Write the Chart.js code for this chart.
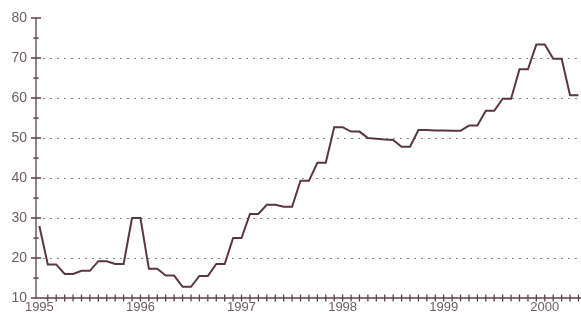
<!DOCTYPE html>
<html>
<head>
<meta charset="utf-8">
<script src="https://cdn.jsdelivr.net/npm/chart.js@4.4.0/dist/chart.umd.min.js"></script>
<style>
  html, body { margin: 0; padding: 0; background: #fff; }
  #wrap { width: 581px; height: 316px; }
</style>
</head>
<body>
<div id="wrap"><canvas id="priceChart" width="581" height="316"></canvas></div>
<script>
// Monthly values, Jan 1995 .. May 2000
const yearLabels = ['1995', '1996', '1997', '1998', '1999', '2000'];
const values = [
    28, 18.4, 18.4, 16, 16, 16.8, 16.8, 19.2, 19.2, 18.5, 18.5, 30,
    30, 17.3, 17.3, 15.6, 15.6, 12.8, 12.8, 15.5, 15.5, 18.5, 18.5, 25,
    25, 31, 31, 33.3, 33.3, 32.8, 32.8, 39.3, 39.3, 43.8, 43.8, 52.7,
    52.7, 51.6, 51.6, 50, 49.8, 49.6, 49.5, 47.8, 47.8, 52, 52, 51.9,
    51.9, 51.8, 51.8, 53.1, 53.1, 56.8, 56.8, 59.8, 59.8, 67.2, 67.2, 73.4,
    73.4, 69.8, 69.8, 60.7, 60.7
];
const yTicks = [10, 20, 30, 40, 50, 60, 70, 80];

const axisColor = '#5e3f4c';
const textColor = '#6d5e67';

const points = values.map((v, i) => ({ x: i, y: v }));

// draws the axis lines with ticks crossing them
const axisTicks = {
    id: 'axisTicks',
    afterDraw(chart) {
        const ctx = chart.ctx;
        const xs = chart.scales.x;
        const ys = chart.scales.y;
        const x0 = xs.left;
        const y0 = ys.bottom;
        ctx.save();
        ctx.strokeStyle = axisColor;
        ctx.lineWidth = 1.3;
        ctx.beginPath();
        ctx.moveTo(x0, ys.top);
        ctx.lineTo(x0, y0);
        ctx.lineTo(xs.right, y0);
        // y ticks every 5
        for (let v = 10; v <= 80; v += 5) {
            const y = ys.getPixelForValue(v);
            const h = v % 10 === 0 ? 5 : 2.5;
            ctx.moveTo(x0 - h, y);
            ctx.lineTo(x0 + h, y);
        }
        // x ticks every month
        for (let m = 1; m <= values.length - 1; m++) {
            const x = xs.getPixelForValue(m);
            ctx.moveTo(x, y0 - 3.5);
            ctx.lineTo(x, y0 + 3.5);
        }
        ctx.stroke();
        ctx.restore();
    }
};

const ctx = document.getElementById('priceChart').getContext('2d');
const priceChart = new Chart(ctx, {
    type: 'line',
    data: {
        datasets: [{
            data: points,
            borderColor: '#5a3645',
            borderWidth: 2,
            pointRadius: 0,
            tension: 0,
            fill: false,
        }]
    },
    options: {
        responsive: false,
        animation: false,
        layout: { padding: { top: 18, right: 0, left: 0, bottom: 0 } },
        plugins: {
            legend: { display: false },
            tooltip: { enabled: false },
        },
        scales: {
            x: {
                type: 'linear',
                min: -0.4,
                max: 64.3,
                afterFit(scale) { scale.height = 18; },
                afterBuildTicks(scale) { scale.ticks = yearLabels.map((_, i) => ({ value: i * 12 })); },
                border: { display: false },
                grid: { display: false, drawTicks: false },
                ticks: {
                    autoSkip: false,
                    maxRotation: 0,
                    padding: 2,
                    color: textColor,
                    font: { family: 'Liberation Sans, Arial, sans-serif', size: 13 },
                    callback: (v) => yearLabels[Math.round(v / 12)],
                },
            },
            y: {
                min: 10,
                max: 80,
                afterFit(scale) { scale.width = 36; },
                border: { display: false, dash: [2, 5] },
                grid: {
                    drawTicks: false,
                    color: (c) => (c.tick && (c.tick.value === 10 || c.tick.value === 80) ? 'rgba(0,0,0,0)' : '#8a8a8a'),
                    lineWidth: 1,
                },
                afterBuildTicks(scale) { scale.ticks = yTicks.map(v => ({ value: v })); },
                ticks: {
                    padding: 9,
                    color: textColor,
                    font: { family: 'Liberation Sans, Arial, sans-serif', size: 14 },
                },
            },
        },
    },
    plugins: [axisTicks],
});
</script>
</body>
</html>
